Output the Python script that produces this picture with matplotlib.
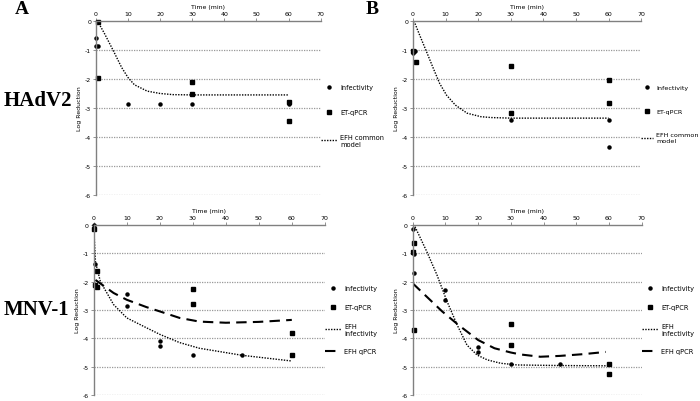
import matplotlib.pyplot as plt

plt.rcParams['axes.unicode_minus'] = False

# ---- data (time in min, log reduction) ----
# A: HAdV2, panel A
a_inf_t = [0, 0, 0.5, 10, 20, 30, 60]
a_inf_y = [-0.6, -0.85, -0.88, -2.85, -2.87, -2.85, -2.87]
a_pcr_t = [0.5, 0.5, 30, 30, 60, 60]
a_pcr_y = [-0.05, -1.95, -2.1, -2.52, -2.78, -3.45]
a_mod_t = [0.5, 2.7, 5.4, 8, 10, 12, 16, 20, 24, 30, 40, 50, 60]
a_mod_y = [0, -0.44, -1.02, -1.6, -1.95, -2.2, -2.42, -2.5, -2.54, -2.55, -2.55, -2.55, -2.55]

# B: HAdV2, panel B
b_inf_t = [0, 0.5, 30, 60, 60]
b_inf_y = [-1.1, -1.05, -3.4, -3.42, -4.33]
b_pcr_t = [0, 1, 30, 30, 60, 60]
b_pcr_y = [-1.02, -1.42, -1.57, -3.18, -2.05, -2.83]
b_mod_t = [0.3, 1.9, 4, 6.1, 8.2, 10.3, 13, 16.6, 20.8, 24, 30, 40, 50, 60]
b_mod_y = [0, -0.45, -1.02, -1.6, -2.16, -2.56, -2.9, -3.18, -3.3, -3.33, -3.35, -3.35, -3.35, -3.35]

# C: MNV-1, panel A
c_inf_t = [0, 0.5, 10, 10, 20, 20, 30, 45]
c_inf_y = [0, -1.36, -2.42, -2.85, -4.1, -4.27, -4.59, -4.59]
c_pcr_t = [0, 1, 0.5, 1, 30, 30, 60, 60]
c_pcr_y = [-0.15, -1.62, -2.12, -2.2, -2.26, -2.8, -3.8, -4.59]
c_efh_inf_t = [0, 0.5, 2, 6, 10, 16, 20, 26, 32, 45, 60]
c_efh_inf_y = [-0.1, -1.3, -2.0, -2.81, -3.28, -3.63, -3.86, -4.15, -4.35, -4.6, -4.8]
c_efh_pcr_t = [0.5, 6, 10, 16, 20, 26, 32, 40, 50, 60]
c_efh_pcr_y = [-1.94, -2.4, -2.64, -2.9, -3.05, -3.28, -3.41, -3.45, -3.42, -3.35]

# D: MNV-1, panel B
d_inf_t = [0, 0.5, 0.5, 10, 10, 20, 20, 30, 45]
d_inf_y = [-0.14, -1.02, -1.7, -2.29, -2.65, -4.32, -4.48, -4.9, -4.91]
d_pcr_t = [0.5, 0, 0.5, 30, 30, 60, 60]
d_pcr_y = [-0.65, -0.96, -3.7, -3.5, -4.22, -4.91, -5.25]
d_efh_inf_t = [0.7, 4.3, 7.4, 10.5, 13.6, 16.6, 19.7, 22.8, 26.9, 32, 45, 60]
d_efh_inf_y = [-0.06, -0.94, -1.76, -2.7, -3.53, -4.24, -4.59, -4.76, -4.88, -4.94, -4.96, -4.97]
d_efh_pcr_t = [0, 4, 9, 14, 20, 25, 30, 33, 39, 45, 52, 59]
d_efh_pcr_y = [-2.06, -2.5, -3.05, -3.53, -4.06, -4.35, -4.5, -4.57, -4.65, -4.62, -4.56, -4.48]

fig = plt.figure(figsize=(7, 4.02), dpi=100)


def setup(ax):
    ax.set_xlim(0, 70)
    ax.set_ylim(-6, 0)
    ax.xaxis.set_ticks_position('top')
    ax.xaxis.set_label_position('top')
    ax.set_xticks(range(0, 71, 10))
    ax.set_yticks(range(-6, 1))
    for s in ['bottom', 'right']:
        ax.spines[s].set_visible(False)
    for s in ['top', 'left']:
        ax.spines[s].set_color('#808080')
        ax.spines[s].set_linewidth(1.0)
    ax.tick_params(labelsize=4.5, length=2, width=0.6, color='#808080', pad=1.5)
    for v in range(-6, 0):
        ax.axhline(v, color='#999999', lw=0.9, ls=(0, (1, 1)), zorder=0)
    ax.set_xlabel('Time (min)', fontsize=4.5, labelpad=2)
    ax.set_ylabel('Log Reduction', fontsize=4.5, labelpad=2)


def pts(ax, t1, y1, t2, y2):
    ax.plot(t1, y1, 'o', color='black', ms=2.2, label='Infectivity', clip_on=False)
    ax.plot(t2, y2, 's', color='black', ms=3.2, label='ET-qPCR', clip_on=False)


def legend(ax, top, spacing, size=4.8, hl=2.5):
    ax.legend(bbox_to_anchor=(1.0, top), frameon=False, fontsize=size,
              handlelength=hl, handletextpad=0.4, labelspacing=spacing,
              loc='upper left', borderaxespad=0, borderpad=0)


axA = fig.add_axes([0.137, 0.5124, 0.321, 0.433])
setup(axA)
pts(axA, a_inf_t, a_inf_y, a_pcr_t, a_pcr_y)
axA.plot(a_mod_t, a_mod_y, color='black', lw=1.0, ls=(0, (1, 1)), label='EFH common\nmodel')
legend(axA, 0.635, 2.8)

axB = fig.add_axes([0.59, 0.5124, 0.326, 0.433])
setup(axB)
pts(axB, b_inf_t, b_inf_y, b_pcr_t, b_pcr_y)
axB.plot(b_mod_t, b_mod_y, color='black', lw=1.0, ls=(0, (1, 1)), label='EFH common\nmodel')
legend(axB, 0.635, 2.9, size=4.6, hl=1.9)

axC = fig.add_axes([0.134, 0.0149, 0.330, 0.423])
setup(axC)
pts(axC, c_inf_t, c_inf_y, c_pcr_t, c_pcr_y)
axC.plot(c_efh_inf_t, c_efh_inf_y, color='black', lw=1.0, ls=(0, (1, 1)), label='EFH\ninfectivity')
axC.plot(c_efh_pcr_t, c_efh_pcr_y, color='black', lw=1.5, ls=(0, (5, 3)), label='EFH qPCR')
legend(axC, 0.645, 1.9)

axD = fig.add_axes([0.5896, 0.0149, 0.327, 0.423])
setup(axD)
pts(axD, d_inf_t, d_inf_y, d_pcr_t, d_pcr_y)
axD.plot(d_efh_inf_t, d_efh_inf_y, color='black', lw=1.0, ls=(0, (1, 1)), label='EFH\ninfectivity')
axD.plot(d_efh_pcr_t, d_efh_pcr_y, color='black', lw=1.5, ls=(0, (5, 3)), label='EFH qPCR')
legend(axD, 0.645, 1.9)

serif = ['Liberation Serif', 'DejaVu Serif']
fig.text(0.021, 0.998, 'A', fontsize=14, fontweight='bold', family=serif, va='top')
fig.text(0.522, 0.998, 'B', fontsize=14, fontweight='bold', family=serif, va='top')
fig.text(0.005, 0.75, 'HAdV2', fontsize=15, fontweight='bold', family=serif, va='center')
fig.text(0.005, 0.23, 'MNV-1', fontsize=15, fontweight='bold', family=serif, va='center')

plt.savefig('out.png', dpi=100)
